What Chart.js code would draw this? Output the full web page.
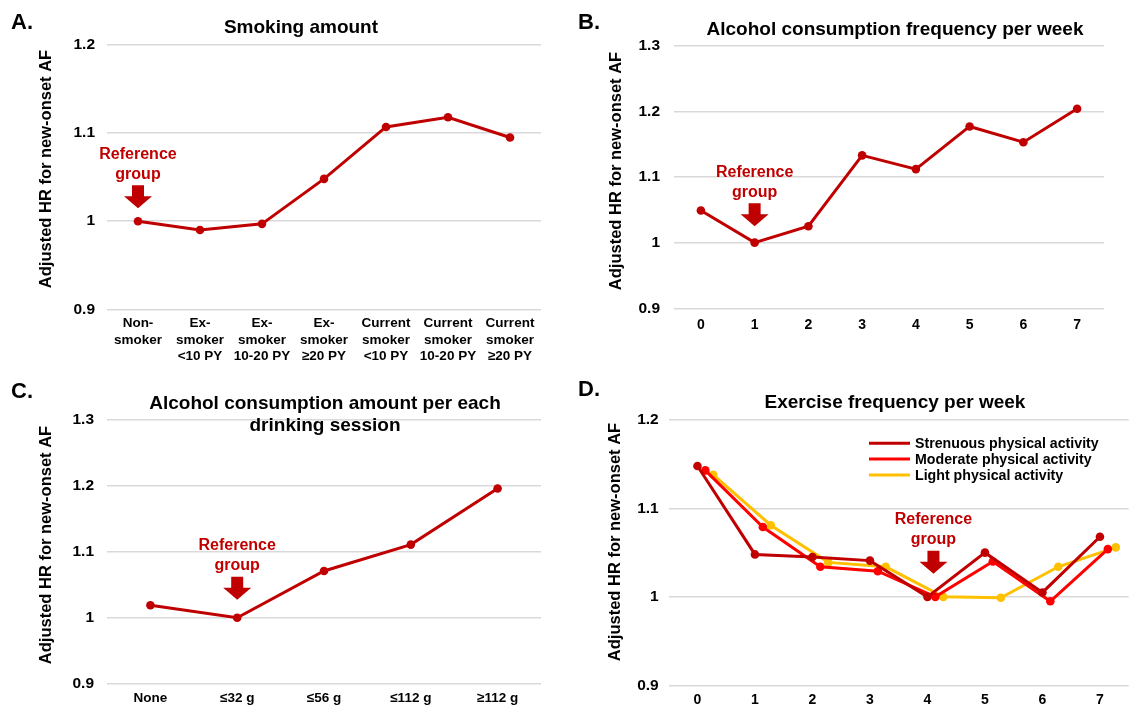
<!DOCTYPE html>
<html><head><meta charset="utf-8">
<script src="https://cdn.jsdelivr.net/npm/chart.js@4.4.1/dist/chart.umd.min.js"></script>
<style>
html,body{margin:0;padding:0;background:#fff;}
#wrap{position:relative;width:1133px;height:706px;overflow:hidden;background:#fff;}
canvas{position:absolute;left:0;top:0;pointer-events:none;}
</style></head><body>
<div id="wrap">
<canvas id="cA" width="1133" height="706"></canvas>
<canvas id="cB" width="1133" height="706"></canvas>
<canvas id="cC" width="1133" height="706"></canvas>
<canvas id="cD" width="1133" height="706"></canvas>
</div>
<script>
// ---------- DATA ----------
const smokingCategories = [["Non-","smoker"],["Ex-","smoker","<10 PY"],["Ex-","smoker","10-20 PY"],["Ex-","smoker","≥20 PY"],["Current","smoker","<10 PY"],["Current","smoker","10-20 PY"],["Current","smoker","≥20 PY"]];
const smokingHR = [1.000, 0.990, 0.997, 1.048, 1.107, 1.118, 1.095];

const frequencyCategories = ["0","1","2","3","4","5","6","7"];
const alcoholFrequencyHR = [1.049, 1.000, 1.025, 1.133, 1.112, 1.177, 1.153, 1.204];

const amountCategories = ["None","≤32 g","≤56 g","≤112 g","≥112 g"];
const alcoholAmountHR = [1.019, 1.000, 1.071, 1.111, 1.196];

const exerciseSeriesNames = ["Strenuous physical activity","Moderate physical activity","Light physical activity"];
const strenuousHR = [1.148, 1.048, 1.045, 1.041, 1.000, 1.050, 1.005, 1.068];
const moderateHR  = [1.143, 1.079, 1.034, 1.029, 1.000, 1.040, 0.995, 1.054];
const lightHR     = [1.138, 1.081, 1.039, 1.034, 1.000, 0.999, 1.034, 1.056];

const yTicksA = [0.9, 1.0, 1.1, 1.2];
const yTicksB = [0.9, 1.0, 1.1, 1.2, 1.3];
const yTicksC = [0.9, 1.0, 1.1, 1.2, 1.3];
const yTicksD = [0.9, 1.0, 1.1, 1.2];

const panelTitles = {
  A: ["Smoking amount"],
  B: ["Alcohol consumption frequency per week"],
  C: ["Alcohol consumption amount per each", "drinking session"],
  D: ["Exercise frequency per week"]
};
const yAxisTitle = "Adjusted HR for new-onset AF";
const refLabel = ["Reference", "group"];

// ---------- STYLE ----------
const FONT = "'Liberation Sans', Arial, Helvetica, sans-serif";
const DARKRED = "#C00000", RED = "#FF0000", GOLD = "#FFC000";
const GRID = "#D9D9D9";
const W = 1133, H = 706;

const decorPlugin = {
  id: 'decor',
  afterDraw(chart, args, o) {
    const ctx = chart.ctx;
    ctx.save();
    ctx.fillStyle = '#000';
    ctx.textBaseline = 'middle';
    // panel letter
    ctx.font = `bold 22px ${FONT}`;
    ctx.textAlign = 'left';
    ctx.fillText(o.letter.text, o.letter.x, o.letter.y);
    // title
    ctx.font = `bold 19px ${FONT}`;
    ctx.textAlign = 'center';
    o.title.lines.forEach((t, i) => ctx.fillText(t, o.title.x, o.title.y + i * o.title.lh));
    // y title
    ctx.save();
    ctx.translate(o.yTitle.x, o.yTitle.y);
    ctx.rotate(-Math.PI / 2);
    ctx.font = `bold 16.5px ${FONT}`;
    ctx.fillText(yAxisTitle, 0, 0);
    ctx.restore();
    // reference annotation
    const r = o.ref;
    const xs = chart.scales.x, ys = chart.scales.y;
    const refVal = chart.data.datasets[0].data[r.index];
    const yv = typeof refVal === 'object' ? refVal.y : refVal;
    const cx = xs.getPixelForValue(r.index) + r.dx;
    const tip = ys.getPixelForValue(yv) - r.gap;
    const top = tip - 23;
    ctx.fillStyle = DARKRED;
    ctx.beginPath();
    ctx.moveTo(cx - 6, top); ctx.lineTo(cx + 6, top); ctx.lineTo(cx + 6, tip - 12);
    ctx.lineTo(cx + 14, tip - 12); ctx.lineTo(cx, tip); ctx.lineTo(cx - 14, tip - 12);
    ctx.lineTo(cx - 6, tip - 12); ctx.closePath(); ctx.fill();
    ctx.font = `bold 16px ${FONT}`;
    ctx.textAlign = 'center';
    ctx.fillText(refLabel[1], cx, top - 11);
    ctx.fillText(refLabel[0], cx, top - 31);
    // legend
    if (o.legend) {
      const L = o.legend;
      ctx.font = `bold 14.2px ${FONT}`;
      ctx.textAlign = 'left';
      chart.data.datasets.forEach((ds, i) => {
        const y = L.y + i * L.dy;
        ctx.strokeStyle = ds.borderColor;
        ctx.lineWidth = 3;
        ctx.beginPath(); ctx.moveTo(L.x, y); ctx.lineTo(L.x + 41, y); ctx.stroke();
        ctx.fillStyle = '#000';
        ctx.fillText(ds.label, L.x + 46, y + 1);
      });
    }
    ctx.restore();
  }
};

function lineDs(label, data, color) {
  return { label, data, borderColor: color, backgroundColor: color, pointBackgroundColor: color,
    pointBorderWidth: 0, pointRadius: 4.3, borderWidth: 3, tension: 0, clip: false };
}

function yScale(ticks, yW, pad) {
  return {
    type: 'linear', position: 'left', min: ticks[0], max: ticks[ticks.length - 1],
    afterBuildTicks: s => { s.ticks = ticks.map(v => ({ value: v })); },
    afterFit: s => { s.width = yW; },
    grid: { color: GRID, lineWidth: 1.5, drawTicks: false },
    border: { display: false },
    ticks: { color: '#000', padding: pad, font: { family: FONT, size: 15.5, weight: 'bold' },
      callback: v => String(v) }
  };
}

function build(id, area, type, labels, datasets, xExtra, yTicks, tickPad, decor) {
  const yW = 60, xH = 60;
  const xScale = Object.assign({
    type: 'category', position: 'bottom', offset: true,
    afterFit: s => { s.height = xH; },
    grid: { display: false, drawTicks: false },
    border: { display: false },
    ticks: { color: '#000', padding: 6, autoSkip: false, maxRotation: 0, minRotation: 0,
      font: { family: FONT, size: 13.5, weight: 'bold', lineHeight: 1.22 } }
  }, xExtra || {});
  return new Chart(document.getElementById(id), {
    type: 'line',
    data: { labels, datasets },
    options: {
      responsive: false, animation: false, devicePixelRatio: 1,
      layout: { padding: { left: area.l - yW, right: W - area.r, top: area.t, bottom: H - area.b - xH } },
      plugins: { legend: { display: false }, tooltip: { enabled: false }, title: { display: false }, decor },
      scales: { x: xScale, y: yScale(yTicks, yW, tickPad) }
    },
    plugins: [decorPlugin]
  });
}

// Panel A
build('cA', { l: 107, r: 541, t: 45, b: 309.3 }, 'category', smokingCategories,
  [lineDs('Smoking amount', smokingHR, DARKRED)], null, yTicksA, 12, {
    letter: { text: 'A.', x: 11, y: 22.5 },
    title: { lines: panelTitles.A, x: 301, y: 28, lh: 23 },
    yTitle: { x: 46, y: 169 },
    ref: { index: 0, dx: 0, gap: 13 }
  });

// Panel B
build('cB', { l: 674, r: 1104, t: 45.7, b: 308.3 }, 'category', frequencyCategories,
  [lineDs('Alcohol consumption frequency per week', alcoholFrequencyHR, DARKRED)],
  { ticks: { color: '#000', padding: 8, autoSkip: false, maxRotation: 0, font: { family: FONT, size: 14, weight: 'bold' } } },
  yTicksB, 14, {
    letter: { text: 'B.', x: 578, y: 23 },
    title: { lines: panelTitles.B, x: 895, y: 29.5, lh: 23 },
    yTitle: { x: 616, y: 171 },
    ref: { index: 1, dx: 0, gap: 16.3 }
  });

// Panel C
build('cC', { l: 107, r: 541, t: 420, b: 684.7 }, 'category', amountCategories,
  [lineDs('Alcohol consumption amount per each drinking session', alcoholAmountHR, DARKRED)], null,
  yTicksC, 13, {
    letter: { text: 'C.', x: 11, y: 392 },
    title: { lines: panelTitles.C, x: 325, y: 403.5, lh: 22.7 },
    yTitle: { x: 46.5, y: 545 },
    ref: { index: 1, dx: 0, gap: 18 }
  });

// Panel D (three series, each slightly shifted along x like the original clustered layout)
const seriesShift = [0, 0.137, 0.275];
const shifted = (arr, k) => arr.map((v, i) => ({ x: i + seriesShift[k], y: v }));
build('cD', { l: 668.7, r: 1130, t: 420, b: 685.3 }, 'linear', frequencyCategories,
  [lineDs(exerciseSeriesNames[0], shifted(strenuousHR, 0), DARKRED),
   lineDs(exerciseSeriesNames[1], shifted(moderateHR, 1), RED),
   lineDs(exerciseSeriesNames[2], shifted(lightHR, 2), GOLD)],
  { type: 'linear', offset: false, min: -0.5, max: 7.5,
    afterBuildTicks: s => { s.ticks = frequencyCategories.map((_, i) => ({ value: i })); },
    ticks: { color: '#000', padding: 6, autoSkip: false, maxRotation: 0,
      font: { family: FONT, size: 14, weight: 'bold' }, callback: v => frequencyCategories[v] } },
  yTicksD, 10, {
    letter: { text: 'D.', x: 578, y: 390 },
    title: { lines: panelTitles.D, x: 895, y: 403, lh: 23 },
    yTitle: { x: 615, y: 542 },
    ref: { index: 4, dx: 6, gap: 23 },
    legend: { x: 869, y: 443.3, dy: 15.8 }
  });
</script>
</body></html>
